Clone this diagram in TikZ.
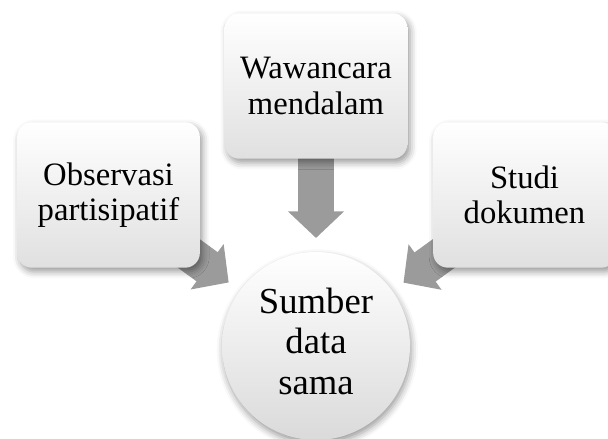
\documentclass[tikz,border=0pt]{standalone}
\usepackage{fontspec}
\setmainfont{Liberation Serif}
\usetikzlibrary{shadows.blur,backgrounds,arrows.meta}
\definecolor{arrowgrey}{RGB}{155,155,155}
\definecolor{boxbottom}{RGB}{224,224,224}
\definecolor{circbottom}{RGB}{218,218,218}
\begin{document}
\begin{tikzpicture}[x=0.75pt,y=-0.75pt,
  boxnode/.style={rounded corners=11pt, minimum width=137pt, minimum height=109pt,
    top color=white, middle color=white, bottom color=boxbottom, draw=none,
    align=center, inner sep=0pt, font=\fontsize{24.5}{26.5}\selectfont,
    blur shadow={shadow xshift=2pt, shadow yshift=-3pt, shadow blur radius=5pt, shadow opacity=40}},
  circnode/.style={circle, minimum size=141pt, inner sep=0pt,
    top color=white, middle color=white, bottom color=circbottom, draw=none,
    blur shadow={shadow xshift=1pt, shadow yshift=-3pt, shadow blur radius=5pt, shadow opacity=40}},
  circtext/.style={align=center, font=\fontsize{27.5}{30.5}\selectfont, yshift=3.5pt},
  blockarrow/.style={draw=arrowgrey, line width=27pt,
    -{Triangle[width=41pt,length=20pt]}, shorten >=81pt}
]
\useasboundingbox (0,0) rectangle (608,439);
\node[boxnode] (L) at (108.5,195) {Observasi\\partisipatif};
\node[boxnode] (T) at (316,86) {Wawancara\\mendalam};
\node[boxnode] (R) at (524.5,195) {Studi\\dokumen};
\node[circnode, label={[circtext]center:Sumber\\data\\sama}] (C) at (316,346) {};
\begin{pgfonlayer}{background}
\draw[blockarrow] (L.center) -- (C.center);
\draw[blockarrow] (T.center) -- (C.center);
\draw[blockarrow] (R.center) -- (C.center);
\end{pgfonlayer}
\end{tikzpicture}
\end{document}
